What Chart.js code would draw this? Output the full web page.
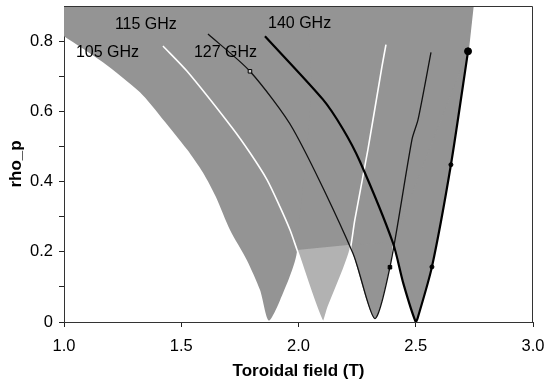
<!DOCTYPE html>
<html>
<head>
<meta charset="utf-8">
<script src="https://cdn.jsdelivr.net/npm/chart.js@4.4.1/dist/chart.umd.min.js"></script>
<style>
  html, body { margin: 0; padding: 0; background: #fff; }
  #wrap { width: 545px; height: 384px; }
</style>
</head>
<body>
<div id="wrap"><canvas id="myChart" width="545" height="384"></canvas></div>
<script>
'use strict'

// Resonance position (rho_p) against toroidal field, one V per frequency.
// Every branch is listed from the bottom of its V upward.
let b105L = [1.873, 1.836, 1.780, 1.708, 1.648, 1.593, 1.525, 1.422, 1.324, 1.166, 1.0];
let rho105L = [0.004, 0.091, 0.176, 0.262, 0.356, 0.425, 0.491, 0.577, 0.654, 0.740, 0.814];
let b105R = [1.873, 1.921, 1.994];
let rho105R = [0.004, 0.061, 0.205];

let b115L = [2.104, 1.994, 1.964, 1.921, 1.866, 1.793, 1.716, 1.525, 1.422];
let rho115L = [0.0, 0.205, 0.262, 0.328, 0.405, 0.482, 0.554, 0.714, 0.786];
let b115R = [2.104, 2.126, 2.190, 2.220, 2.240, 2.296, 2.356, 2.373];
let rho115R = [0.0, 0.041, 0.147, 0.205, 0.290, 0.491, 0.728, 0.790];

let b127L = [2.325, 2.232, 1.977, 1.793, 1.614];
let rho127L = [0.010, 0.196, 0.549, 0.714, 0.820];
let b127R = [2.325, 2.390, 2.484, 2.510, 2.565];
let rho127R = [0.010, 0.156, 0.520, 0.577, 0.768];

let b140L = [2.5, 2.447, 2.403, 2.262, 2.190, 2.104, 1.857];
let rho140L = [0.0, 0.110, 0.225, 0.457, 0.549, 0.634, 0.814];
let b140R = [2.5, 2.509, 2.569, 2.650, 2.723];
let rho140R = [0.0, 0.013, 0.157, 0.448, 0.771];

// where neighbouring V's cross (105/115, 115/127, 127/140)
let notchB = [1.994, 2.222, 2.403];
let notchRho = [0.205, 0.220, 0.225];
// field where the covered band meets the top of the plot
let edgeTopB = 2.744;

// measured points
let mark127B = [1.793, 2.390];
let mark127Rho = [0.714, 0.156];
let mark140B = [2.569, 2.650, 2.723];
let mark140Rho = [0.157, 0.448, 0.771];

let labelText = ['105 GHz', '115 GHz', '127 GHz', '140 GHz'];
let labelB = [1.051, 1.217, 1.554, 1.870];
let labelRho = [0.754, 0.834, 0.754, 0.838];

let xTicks = [1.0, 1.5, 2.0, 2.5, 3.0];
let yMax = 0.9;

// same smoothing for the curves and the V outlines so the edges line up
const smooth = 0.25;
const bandGrey = '#949494';

function pts(bs, rs) {
    return bs.map((b, i) => ({x: b, y: rs[i]}));
}
function below(bs, rs, top) {
    return pts(bs, rs).filter(p => p.y < top);
}
function vee(bL, rL, bR, rR) {
    return pts(bL, rL).reverse().concat(pts(bR, rR).slice(1));
}

let apex = pts(notchB, notchRho);
let top140 = pts(b140R, rho140R).pop();

// covered band above the notches; its left side is taken care of by the 105 GHz piece
let band = [{x: 1.0, y: yMax}, {x: edgeTopB, y: yMax}, top140, apex[2], apex[1], apex[0]];
// the V below each notch (the 105 GHz one runs up to the top edge)
let fill105 = pts(b105L, rho105L).reverse()
    .concat(below(b105R, rho105R, notchRho[0]).slice(1), [apex[0], {x: notchB[0], y: yMax}, {x: 1.0, y: yMax}]);
let fill115 = [apex[0]]
    .concat(below(b115L, rho115L, notchRho[0]), below(b115R, rho115R, notchRho[1]).slice(1), [apex[1]]);
let fill127 = [apex[1]]
    .concat(below(b127L, rho127L, notchRho[1]).reverse(), below(b127R, rho127R, notchRho[2]).slice(1), [apex[2]]);
let fill140 = [apex[2]]
    .concat(below(b140L, rho140L, notchRho[2]).reverse(), pts(b140R, rho140R).slice(1));

function area(data, colour, order, tension) {
    return {
        data: data,
        showLine: true,
        borderWidth: 0,
        borderColor: colour,
        backgroundColor: colour,
        pointRadius: 0,
        tension: tension,
        fill: 'shape',
        order: order
    };
}

const frame = {
    id: 'frame',
    afterDatasetsDraw(chart) {
        let {ctx, chartArea: a, scales} = chart;
        ctx.save();
        ctx.strokeStyle = '#333';
        ctx.lineWidth = 1;
        ctx.beginPath();
        ctx.moveTo(a.left, a.top + 0.5);
        ctx.lineTo(a.right - 0.5, a.top + 0.5);
        ctx.lineTo(a.right - 0.5, a.bottom);
        ctx.stroke();

        ctx.fillStyle = '#000';
        ctx.font = '16px "Liberation Sans", Arial, sans-serif';
        ctx.textAlign = 'left';
        ctx.textBaseline = 'alphabetic';
        labelText.forEach((t, i) => {
            ctx.fillText(t, scales.x.getPixelForValue(labelB[i]), scales.y.getPixelForValue(labelRho[i]));
        });
        ctx.restore();
    }
};

Chart.defaults.font.family = '"Liberation Sans", Arial, sans-serif';
Chart.defaults.color = '#000';

let bandSet = area(band, bandGrey, 9, 0);
bandSet.borderWidth = 1.5;

let ctx = document.getElementById('myChart');
let myChart = new Chart(ctx, {
    type: 'scatter',
    data: {
        datasets: [
            {
                label: '140 GHz pts',
                data: pts(mark140B, mark140Rho),
                pointRadius: c => c.dataIndex === 2 ? 3.5 : 2,
                pointBackgroundColor: '#000',
                pointBorderColor: '#000',
                showLine: false,
                order: 0
            },
            {
                label: '127 GHz pts',
                data: pts(mark127B, mark127Rho),
                pointStyle: 'rect',
                pointRadius: 2.5,
                pointBackgroundColor: c => c.dataIndex === 0 ? '#ccc' : '#000',
                pointBorderColor: '#000',
                pointBorderWidth: 1,
                showLine: false,
                order: 0
            },
            {
                label: '140 GHz',
                data: vee(b140L, rho140L, b140R, rho140R),
                showLine: true,
                borderColor: '#000',
                borderWidth: 2.2,
                pointRadius: 0,
                tension: smooth,
                fill: false,
                order: 1
            },
            {
                label: '127 GHz',
                data: vee(b127L, rho127L, b127R, rho127R),
                showLine: true,
                borderColor: '#111',
                borderWidth: 1.3,
                pointRadius: 0,
                tension: smooth,
                fill: false,
                order: 2
            },
            {
                label: '115 GHz',
                data: vee(b115L, rho115L, b115R, rho115R),
                showLine: true,
                borderColor: '#fff',
                borderWidth: 1.6,
                pointRadius: 0,
                tension: smooth,
                fill: false,
                order: 3
            },
            area(fill105, bandGrey, 8, smooth),
            area(fill115, '#b2b2b2', 8, smooth),
            area(fill127, bandGrey, 8, smooth),
            area(fill140, bandGrey, 8, smooth),
            bandSet
        ]
    },
    options: {
        responsive: false,
        animation: false,
        events: [],
        layout: {padding: {top: 6, right: 0, left: 0, bottom: 0}},
        plugins: {
            legend: {display: false},
            tooltip: {enabled: false}
        },
        scales: {
            x: {
                type: 'linear',
                min: 1,
                max: 3,
                afterBuildTicks: s => { s.ticks = xTicks.map(v => ({value: v})); },
                afterFit: s => { s.height = 62; s.paddingLeft = 0; s.paddingRight = 12; },
                ticks: {
                    font: {size: 16.5},
                    padding: 10,
                    maxRotation: 0,
                    callback: v => v.toFixed(1)
                },
                grid: {drawOnChartArea: false, drawTicks: true, tickLength: 5, color: '#222'},
                border: {display: true, color: '#333'},
                title: {
                    display: true,
                    text: 'Toroidal field (T)',
                    font: {size: 17, weight: 'bold'},
                    padding: {top: 0, bottom: 2}
                }
            },
            y: {
                type: 'linear',
                min: 0,
                max: yMax,
                afterBuildTicks: s => { s.ticks = s.ticks.filter(t => t.value < 0.85); },
                afterFit: s => { s.width = 64; s.paddingTop = 0; s.paddingBottom = 0; },
                ticks: {
                    stepSize: 0.1,
                    font: {size: 16.5},
                    padding: 6,
                    callback: v => {
                        let n = Math.round(v * 10);
                        if (n % 2) return '';
                        return n === 0 ? '0' : v.toFixed(1);
                    }
                },
                grid: {drawOnChartArea: false, drawTicks: true, tickLength: 5, color: '#222'},
                border: {display: true, color: '#333'},
                title: {
                    display: true,
                    text: 'rho_p',
                    font: {size: 17, weight: 'bold'},
                    padding: {top: 6, bottom: 0}
                }
            }
        }
    },
    plugins: [frame]
});
</script>
</body>
</html>
